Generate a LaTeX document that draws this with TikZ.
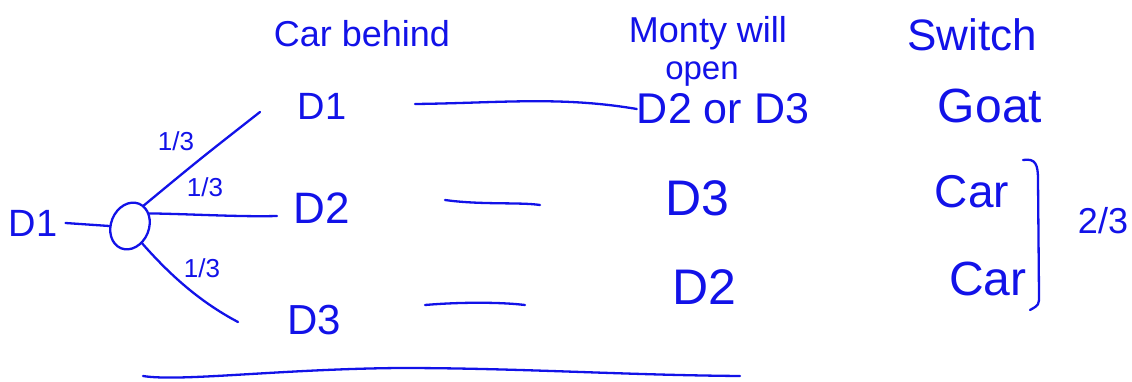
\documentclass[tikz,border=0pt]{standalone}
\usepackage{fontspec}
\setmainfont{Liberation Sans}
\usetikzlibrary{shapes.geometric}
\definecolor{ink}{RGB}{18,18,232}
\tikzset{
  pen/.style={draw=ink, line width=2.3pt, line cap=round, line join=round},
  txt/.style={text=ink, inner sep=0pt, font=\fontsize{#1}{#1}\selectfont},
  txt/.default=38,
  frac/.style={txt=26},
}
\begin{document}
\begin{tikzpicture}[x=1pt,y=-1pt]
\useasboundingbox (0,0) rectangle (1132,382);
% headers
\node[txt=36] (hcar) at (362,34) {Car behind};
\node[txt=36] (hmonty) at (708,33) {Monty will};
\node[txt=33] (hopen) at (702,74) {open};
\node[txt=44] (hswitch) at (972,35) {Switch};
% left
\node[txt=38] (d1) at (33,223) {D1};
\node[ellipse, pen, minimum width=38pt, minimum height=48pt, inner sep=0pt, rotate=-22] (c) at (130,226) {};
\draw[pen] (d1.east) ++(8,0) coordinate (d1e) -- (c.202);
% branches
\coordinate (t1) at (260,112);
\coordinate (t2) at (277,216);
\coordinate (t3) at (238,322);
\draw[pen] (c.78) .. controls (200,159) .. (t1);
\draw[pen] (c.55) .. controls (190,214) and (240,217) .. (t2);
\draw[pen] (c.-33) .. controls (170,275) and (200,302) .. (t3);
\node[frac] (p1) at (176,141) {1/3};
\node[frac] (p2) at (205,187) {1/3};
\node[frac] (p3) at (202,268) {1/3};
% car behind column
\node[txt=38] (cb1) at (322,106) {D1};
\node[txt=44] (cb2) at (322,208) {D2};
\node[txt=42] (cb3) at (314,320) {D3};
% monty column
\node[txt=43] (m1) at (723,109) {D2 or D3};
\node[txt=50] (m2) at (697,198) {D3};
\node[txt=50] (m3) at (704,287) {D2};
% dashes
\coordinate (a1) at (415,104);
\coordinate (a2) at (445,200);
\coordinate (b2) at (540,205);
\coordinate (a3) at (425,305);
\coordinate (b3) at (525,305);
\draw[pen] (a1) .. controls (500,103) and (560,96) .. (m1.west);
\draw[pen] (a2) .. controls (480,205) and (520,202) .. (b2);
\draw[pen] (a3) .. controls (460,302) and (500,302) .. (b3);
% switch column
\node[txt=48] (s1) at (990,106) {Goat};
\node[txt=46] (s2) at (972,192) {Car};
\node[txt=48] (s3) at (988,279) {Car};
\coordinate (k1) at (1023,160);
\coordinate (k2) at (1030,310);
\draw[pen] (k1) .. controls (1036,158) and (1038,165) .. (1038,180) -- (1039,295) .. controls (1039,305) .. (k2);
\node[txt=36] (f) at (1103,221) {2/3};
% bottom line
\coordinate (l1) at (143,376);
\coordinate (l2) at (740,376);
\draw[pen] (l1) .. controls (180,382) and (280,369) .. (400,368) .. controls (520,368) and (620,375) .. (l2);
\end{tikzpicture}
\end{document}
